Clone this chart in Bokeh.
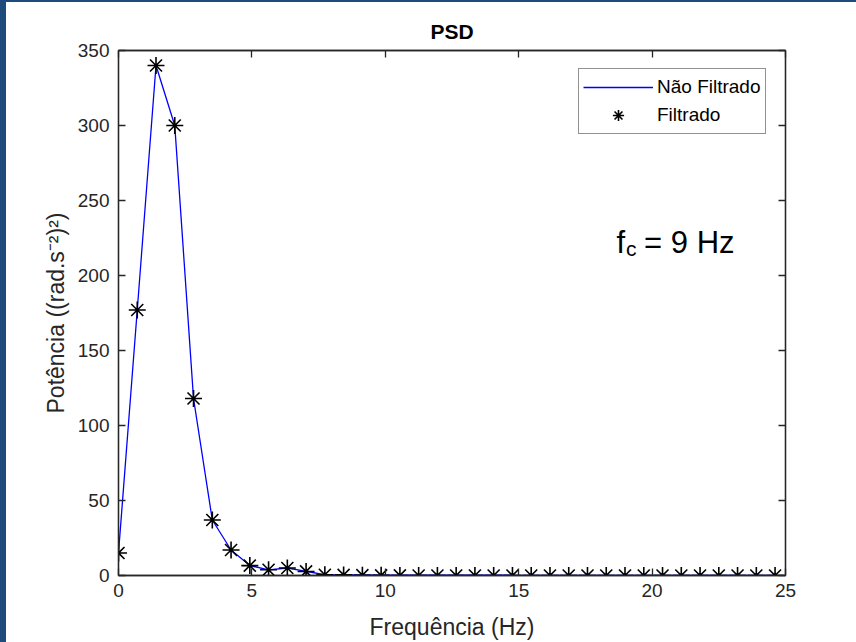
from bokeh.plotting import figure
from bokeh.models import (ColumnDataSource, LinearAxis, Range1d, Label, Legend,
                          LegendItem, FixedTicker, CustomJSTickFormatter, Div)
from bokeh.layouts import column, row
from bokeh.embed import file_html
from bokeh.resources import INLINE

# ---- data ----
freq = [0.0, 0.703, 1.406, 2.109, 2.812, 3.516, 4.219, 4.922, 5.625, 6.328,
        7.031, 7.734, 8.438, 9.141, 9.844, 10.547, 11.25, 11.953, 12.656, 13.359,
        14.062, 14.766, 15.469, 16.172, 16.875, 17.578, 18.281, 18.984, 19.688,
        20.391, 21.094, 21.797, 22.5, 23.203, 23.906, 24.609]
psd_raw = [15, 177, 340, 300, 118, 37, 17, 6.6, 3.8, 5.0,
           2.7, 0.5, 0.4, 0.35, 0.3, 0.3, 0.25, 0.25, 0.2, 0.2,
           0.2, 0.15, 0.15, 0.15, 0.1, 0.1, 0.1, 0.1, 0.1,
           0.08, 0.08, 0.08, 0.06, 0.06, 0.05, 0.05]
psd_filt = [15, 177, 340, 300, 118, 37, 17, 6.6, 3.8, 5.0,
            2.7, 0.5, 0.4, 0.2, 0.1, 0.05, 0.03, 0.02, 0.01, 0.01,
            0.01, 0.0, 0.0, 0.0, 0.0, 0.0, 0.0, 0.0, 0.0,
            0.0, 0.0, 0.0, 0.0, 0.0, 0.0, 0.0]
x_ticks = [0, 5, 10, 15, 20, 25]
y_ticks = [0, 50, 100, 150, 200, 250, 300, 350]
title_text = "PSD"
x_label = "Frequência (Hz)"
y_label = "Potência ((rad.s⁻²)²)"
legend_labels = ["Não Filtrado", "Filtrado"]

FONT = "Liberation Sans"
DARK = "#262626"
FRAME_BLUE = "#1F4A7C"

src = ColumnDataSource(dict(f=freq, raw=psd_raw, filt=psd_filt))

p = figure(width=850, height=640, output_backend="svg", toolbar_location=None,
           x_range=Range1d(0, 25), y_range=Range1d(0, 350),
           min_border_left=112, min_border_right=71,
           min_border_top=48, min_border_bottom=67,
           background_fill_color="white", border_fill_color="white",
           margin=0)

p.title.text = title_text
p.title.align = "center"
p.title.text_font = FONT
p.title.text_font_size = "21px"
p.title.text_font_style = "bold"
p.title.text_color = "black"
p.title.standoff = 16

p.xgrid.visible = False
p.ygrid.visible = False
p.outline_line_color = DARK
p.outline_line_width = 1.3

for ax, ticks in ((p.xaxis[0], x_ticks), (p.yaxis[0], y_ticks)):
    ax.ticker = FixedTicker(ticks=ticks)
    ax.major_tick_in = 7
    ax.major_tick_out = 0
    ax.minor_tick_in = 0
    ax.minor_tick_out = 0
    ax.axis_line_color = DARK
    ax.axis_line_width = 1.3
    ax.major_tick_line_color = DARK
    ax.major_tick_line_width = 1.3
    ax.major_label_text_font = FONT
    ax.major_label_text_font_size = "19px"
    ax.major_label_text_color = DARK
    ax.axis_label_text_font = FONT
    ax.axis_label_text_font_size = "23px"
    ax.axis_label_text_font_style = "normal"
    ax.axis_label_text_color = DARK

p.xaxis.axis_label = x_label
p.yaxis.axis_label = y_label
p.xaxis.major_label_standoff = 8
p.yaxis.major_label_standoff = 9
p.xaxis.axis_label_standoff = 14
p.yaxis.axis_label_standoff = 6

blank = CustomJSTickFormatter(code="return ''")
for loc, ticks in (("above", x_ticks), ("right", y_ticks)):
    ax = LinearAxis(ticker=FixedTicker(ticks=ticks), formatter=blank,
                    major_tick_in=7, major_tick_out=0, minor_tick_in=0, minor_tick_out=0,
                    axis_line_color=DARK, axis_line_width=1.3,
                    major_tick_line_color=DARK, major_tick_line_width=1.3,
                    major_label_text_font_size="0px", major_label_standoff=0)
    p.add_layout(ax, loc)

r_line = p.line("f", "raw", source=src, line_color="#0000FF", line_width=1.3)
r_pts = p.scatter("f", "filt", source=src, marker="asterisk", size=17,
                  line_color="black", line_width=1.6)

legend = Legend(items=[LegendItem(label=legend_labels[0], renderers=[r_line]),
                       LegendItem(label=legend_labels[1], renderers=[r_pts])],
                location=(460, 441), orientation="vertical",
                label_text_font=FONT, label_text_font_size="19px",
                label_text_color="black",
                glyph_width=70, glyph_height=28, label_height=28,
                label_standoff=4, spacing=0, padding=4, margin=0,
                border_line_color=DARK, border_line_width=1,
                background_fill_color="white", background_fill_alpha=1)
p.add_layout(legend, "center")

p.add_layout(Label(x=18.67, y=222.3, text="f", text_font=FONT, text_font_size="31px",
                   text_color="black", text_baseline="alphabetic"))
p.add_layout(Label(x=19.02, y=218.2, text="c", text_font=FONT, text_font_size="21px",
                   text_color="black", text_baseline="alphabetic"))
p.add_layout(Label(x=19.7, y=222.3, text="= 9 Hz", text_font=FONT, text_font_size="31px",
                   text_color="black", text_baseline="alphabetic"))

# window frame strips of the original screenshot
top_strip = Div(text="", width=856, height=2, margin=0,
                styles={"background-color": FRAME_BLUE})
left_strip = Div(text="", width=6, height=640, margin=0,
                 styles={"background-color": FRAME_BLUE})
layout = column(top_strip, row(left_strip, p, spacing=0, margin=0),
                spacing=0, margin=0)

open("out.html", "w").write(file_html(layout, INLINE))
